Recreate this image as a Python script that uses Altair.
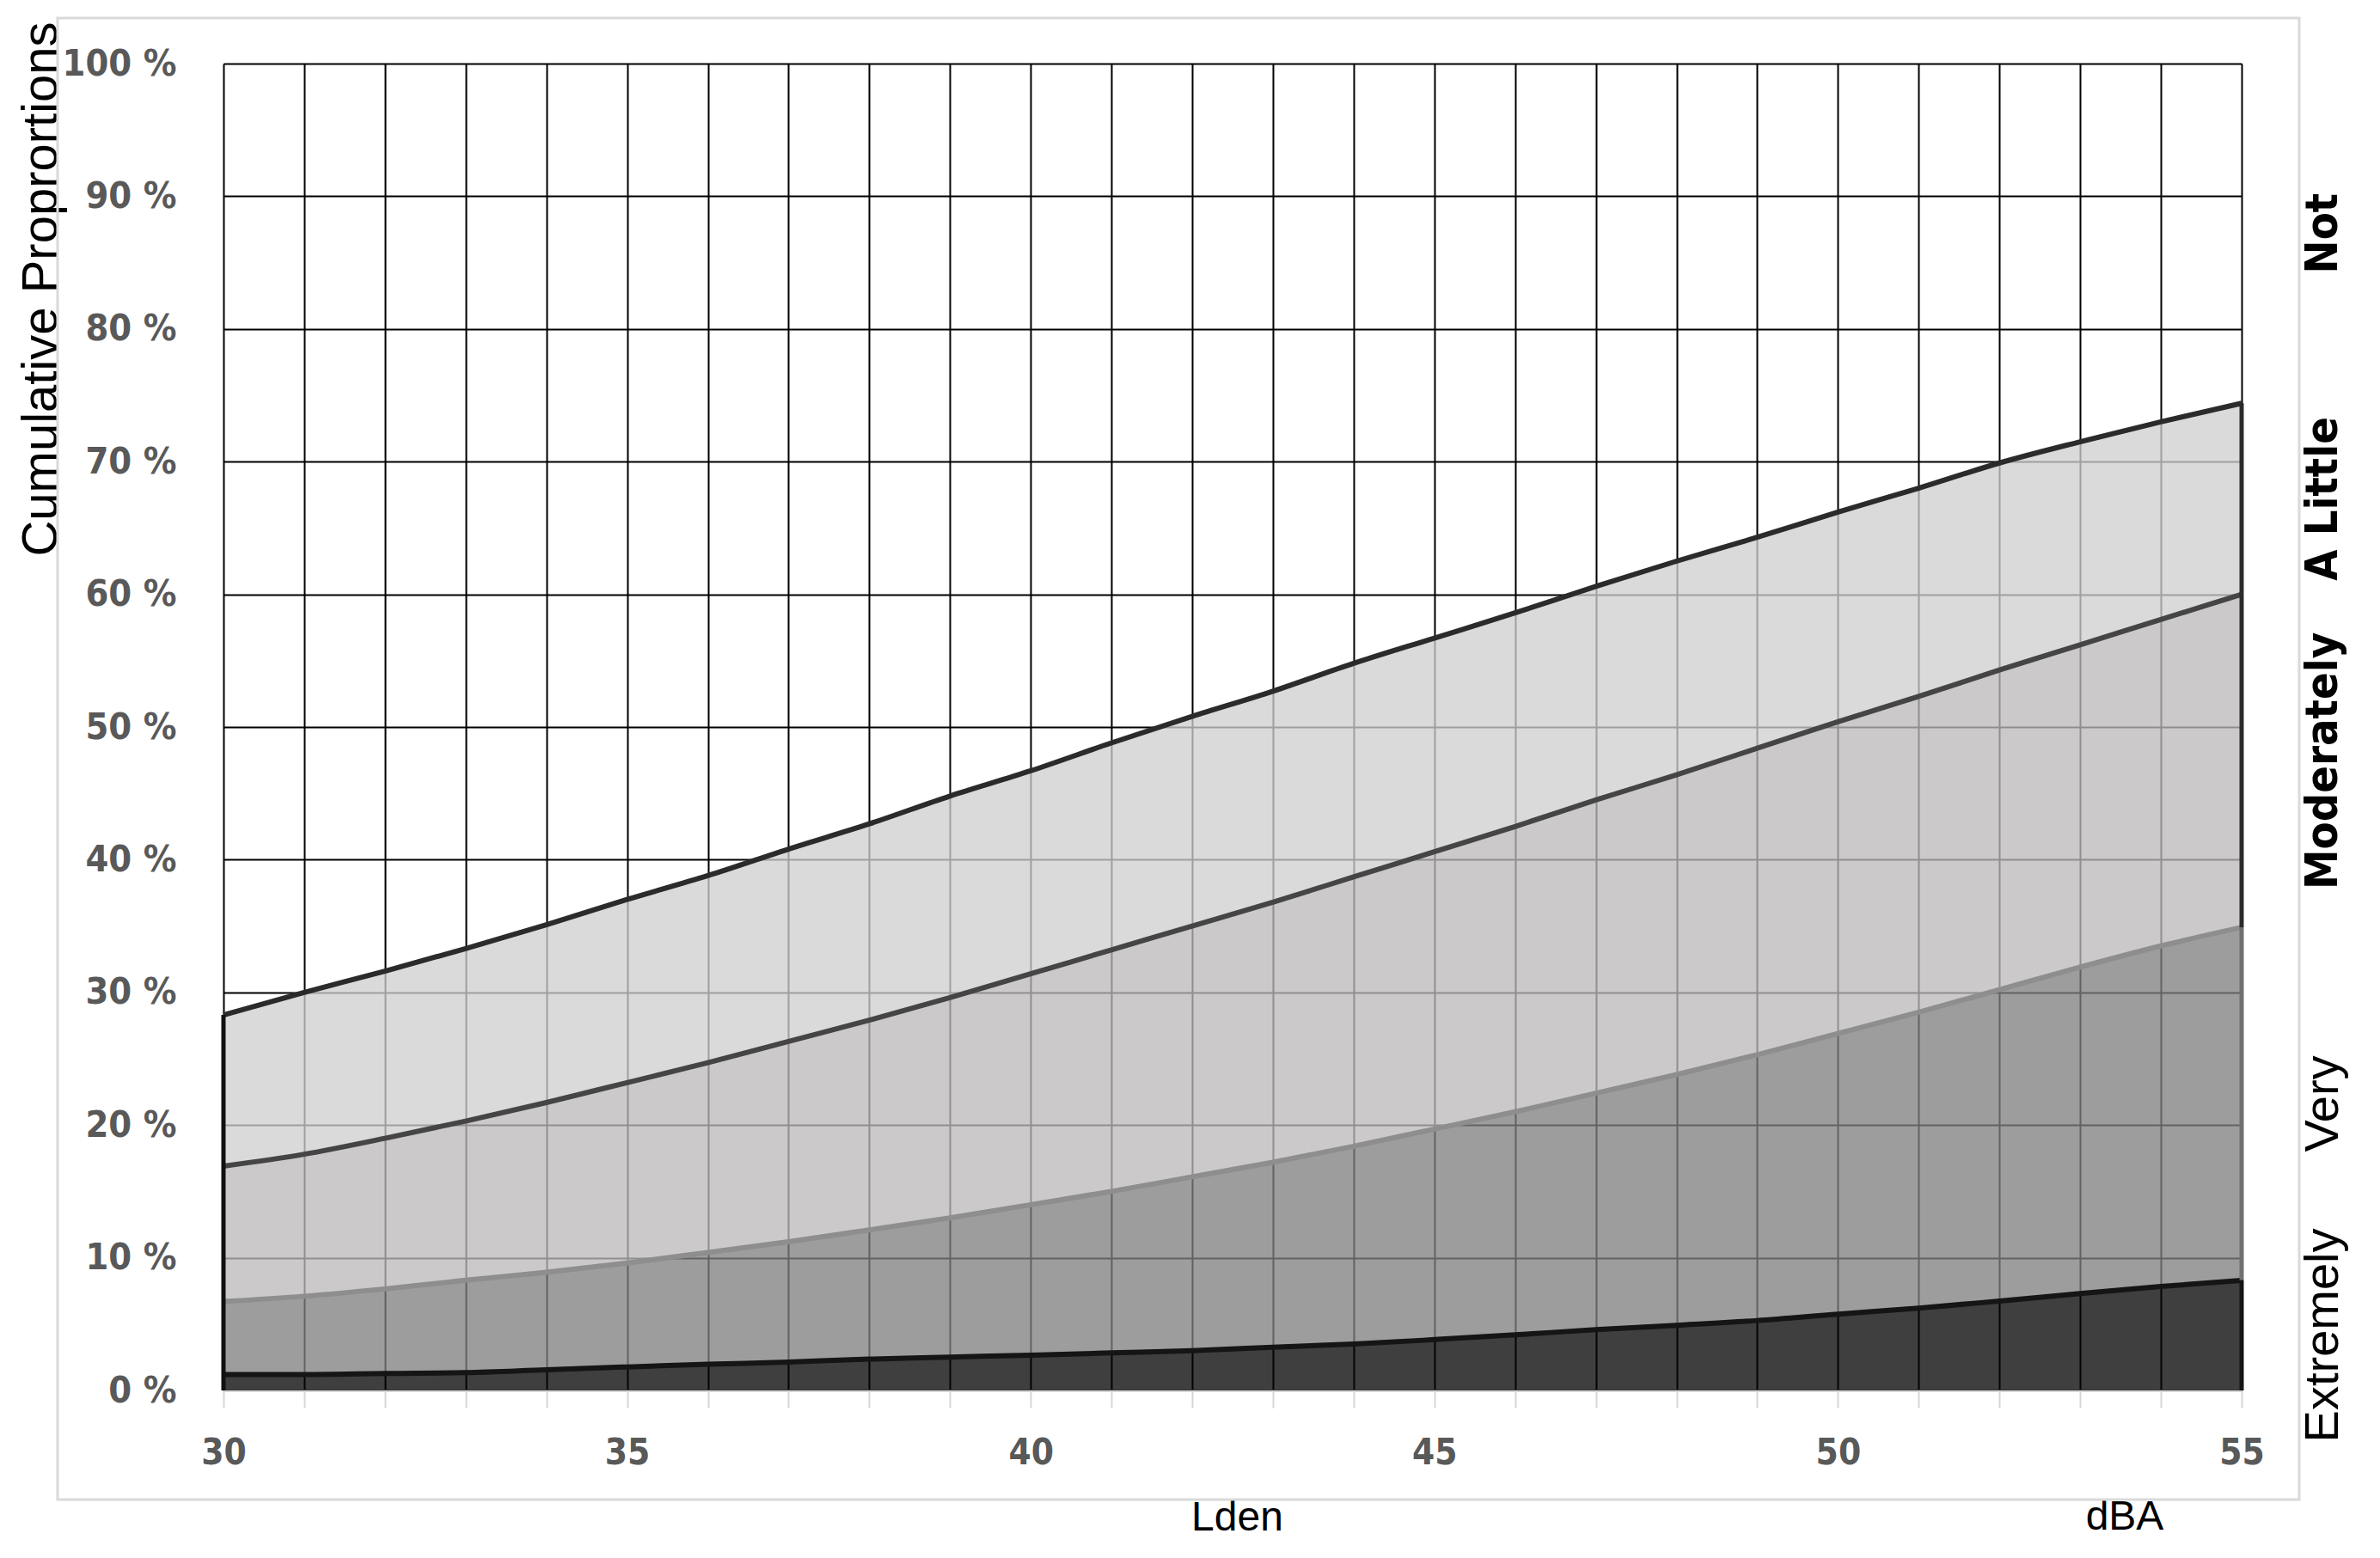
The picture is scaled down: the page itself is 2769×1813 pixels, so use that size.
import altair as alt
import pandas as pd

# ---- data ----
levels = list(range(30, 56))
extremely = [1.2, 1.2, 1.28, 1.34, 1.56, 1.77, 1.97, 2.14, 2.36, 2.51, 2.66, 2.83, 3.0,
             3.26, 3.5, 3.83, 4.19, 4.58, 4.91, 5.27, 5.75, 6.2, 6.74, 7.3, 7.83, 8.3]
very = [6.7, 7.1, 7.65, 8.3, 8.9, 9.6, 10.4, 11.2, 12.1, 13.0, 14.0, 15.0, 16.1,
        17.2, 18.4, 19.7, 21.0, 22.4, 23.8, 25.3, 26.9, 28.5, 30.2, 31.9, 33.5, 34.9]
moderately = [16.9, 17.8, 19.0, 20.3, 21.7, 23.2, 24.7, 26.3, 27.9, 29.6, 31.4, 33.2, 35.0,
              36.8, 38.7, 40.6, 42.5, 44.5, 46.4, 48.4, 50.4, 52.3, 54.3, 56.2, 58.1, 60.0]
a_little = [28.3, 30.0, 31.6, 33.3, 35.1, 37.0, 38.8, 40.8, 42.7, 44.8, 46.7, 48.8, 50.8,
            52.7, 54.8, 56.7, 58.6, 60.6, 62.5, 64.3, 66.2, 68.0, 69.9, 71.5, 73.0, 74.4]

bands = ["A Little", "Moderately", "Very", "Extremely"]
side_labels = ["Not", "A Little", "Moderately", "Very", "Extremely"]
y_ticks = [0, 10, 20, 30, 40, 50, 60, 70, 80, 90, 100]
y_title = "Cumulative Proprortions"
x_title = "Lden"
unit_label = ["dBA"]

fill_colors = ["#cfcfcf", "#bcb9bb", "#818081", "#050505"]
line_colors = ["#2b2b2b", "#454545", "#8e8e8e", "#151515"]
edge_colors = ["#2b2b2b", "#2b2b2b", "#707070", "#151515"]

NARROW = "Liberation Sans Narrow, DejaVu Sans Condensed, sans-serif"
REG = "Liberation Sans, Arial, sans-serif"

# ---- tables built from the arrays ----
rows = []
for i, x in enumerate(levels):
    lows = [moderately[i], very[i], extremely[i], 0.0]
    highs = [a_little[i], moderately[i], very[i], extremely[i]]
    for b, lo, hi in zip(bands, lows, highs):
        rows.append({"x": x, "band": b, "lo": lo, "hi": hi})
df = pd.DataFrame(rows)
df_last = df[df["x"] == levels[-1]].copy()
df_first = pd.DataFrame({"x": [levels[0]], "lo": [0.0], "hi": [a_little[0]]})

bounds = [100.0, a_little[-1], moderately[-1], very[-1], extremely[-1], 0.0]
lab_df = pd.DataFrame({
    "label": side_labels,
    "mid": [(bounds[k] + bounds[k + 1]) / 2 for k in range(5)],
    "bold": [True, True, True, False, False],
})

x_axis = alt.Axis(
    values=levels,
    labelExpr="datum.value % 5 == 0 ? datum.value : ''",
    grid=True, gridColor="black", gridWidth=2, gridOpacity=1,
    domain=True, domainColor="#d6d6d6", domainWidth=3,
    ticks=True, tickColor="#d6d6d6", tickWidth=2, tickSize=20,
    labelFont=NARROW, labelFontWeight="bold", labelFontSize=42, labelColor="#595959",
    labelPadding=32, labelBaseline="top", labelFlush=False, labelOverlap=False,
    title=x_title, titleFont=REG, titleFontSize=48, titleFontWeight="normal",
    titleColor="black", titleX=1179, titleY=148, titleBaseline="middle", titleAlign="center",
)
y_axis = alt.Axis(
    values=y_ticks,
    labelExpr="datum.value + ' %'",
    grid=True, gridColor="black", gridWidth=2, gridOpacity=1,
    domain=False, ticks=False,
    labelFont=NARROW, labelFontWeight="bold", labelFontSize=43, labelColor="#595959",
    labelPadding=55,
    title=y_title, titleFont=REG, titleFontSize=58, titleFontWeight="normal",
    titleColor="black", titleAngle=270, titleX=-195, titleY=262,
    titleAlign="center", titleBaseline="alphabetic",
)
xs = alt.Scale(domain=[30, 55], nice=False, zero=False)
ys = alt.Scale(domain=[0, 100], nice=False)

X = alt.X("x:Q", scale=xs, axis=x_axis)

areas = alt.Chart(df).mark_area(opacity=0.77, interpolate="monotone").encode(
    x=X,
    y=alt.Y("lo:Q", scale=ys, axis=y_axis),
    y2="hi:Q",
    fill=alt.Fill("band:N", scale=alt.Scale(domain=bands, range=fill_colors), legend=None),
)

lines = alt.Chart(df).mark_line(strokeWidth=6, interpolate="monotone").encode(
    x=X,
    y=alt.Y("hi:Q", scale=ys, axis=y_axis),
    stroke=alt.Stroke("band:N", scale=alt.Scale(domain=bands, range=line_colors), legend=None),
)

right_edges = alt.Chart(df_last).mark_rule(strokeWidth=5).encode(
    x=X,
    y=alt.Y("lo:Q", scale=ys, axis=y_axis),
    y2="hi:Q",
    color=alt.Color("band:N", scale=alt.Scale(domain=bands, range=edge_colors), legend=None),
)

left_edge = alt.Chart(df_first).mark_rule(strokeWidth=5, color="#111111").encode(
    x=X,
    y=alt.Y("lo:Q", scale=ys, axis=y_axis),
    y2="hi:Q",
)

side_bold = alt.Chart(lab_df[lab_df["bold"]]).mark_text(
    angle=270, align="center", baseline="middle", font=NARROW, fontWeight="bold",
    fontSize=52, color="black",
).encode(x=alt.value(2443), y=alt.Y("mid:Q", scale=ys, axis=y_axis), text="label:N")

side_reg = alt.Chart(lab_df[~lab_df["bold"]]).mark_text(
    angle=270, align="center", baseline="middle", font=REG, fontWeight="normal",
    fontSize=56, color="black",
).encode(x=alt.value(2443), y=alt.Y("mid:Q", scale=ys, axis=y_axis), text="label:N")

unit = alt.Chart(pd.DataFrame({"t": unit_label})).mark_text(
    align="center", baseline="middle", font=REG, fontSize=48, color="black",
).encode(x=alt.value(2212), y=alt.value(1692), text="t:N")

frame = alt.Chart(pd.DataFrame({"k": [0]})).mark_rect(
    filled=False, stroke="#d9d9d9", strokeWidth=3,
).encode(x=alt.value(-193), x2=alt.value(2415), y=alt.value(-53), y2=alt.value(1671))

chart = alt.layer(
    areas, lines, right_edges, left_edge, side_bold, side_reg, unit, frame
).properties(
    width=2348, height=1544,
    autosize=alt.AutoSizeParams(type="none"),
    padding={"left": 252, "top": 66, "right": 150, "bottom": 180},
    background="white",
).configure_view(strokeWidth=0)

chart.save("out.html", embed_options={"renderer": "svg", "actions": False})
